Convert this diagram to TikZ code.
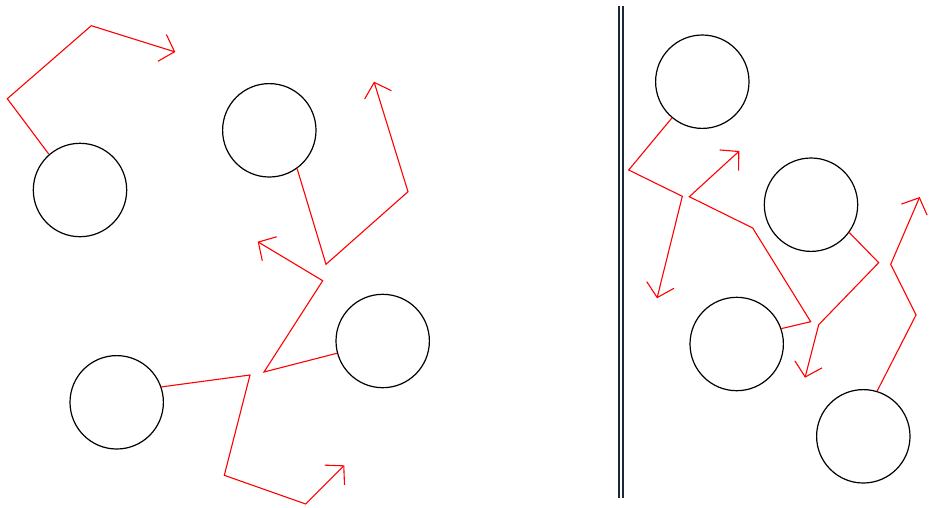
\documentclass[tikz,border=0pt]{standalone}
\usetikzlibrary{arrows.meta}
\begin{document}
\begin{tikzpicture}[x=1pt,y=-1pt,
  ball/.style={circle,draw=black,line width=1.2pt,minimum size=93.4pt,inner sep=0pt},
  walk/.style={draw=red,line width=1.1pt,-{Straight Barb[length=13pt,width=28pt]}},
  wall/.style={draw={rgb,255:red,30;green,38;blue,58},line width=1.2pt}]
\useasboundingbox (0,0) rectangle (944,507);
% left panel
\node[ball] (c1) at (80,190) {};
\node[ball] (c2) at (269.3,130.3) {};
\node[ball] (c3) at (382.7,341) {};
\node[ball] (c4) at (116.7,402.3) {};
% right panel
\node[ball] (c5) at (702.3,81.7) {};
\node[ball] (c6) at (811,204.7) {};
\node[ball] (c7) at (736.7,344) {};
\node[ball] (c8) at (863.3,436.3) {};
% wall
\coordinate (w1t) at (619,6); \coordinate (w1b) at (619,497.5);
\coordinate (w2t) at (623,6); \coordinate (w2b) at (623,497.5);
\draw[wall] (w1t) -- (w1b);
\draw[wall] (w2t) -- (w2b);
% walks
\draw[walk] (c1.131.3) -- (7.3,98.7) -- (91.3,25.7) -- (175.3,52);
\draw[walk] (c2.-54.6) -- (326,264.3) -- (408,191.7) -- (374,81.7);
\draw[walk] (c3.-165.5) -- (264,372) -- (322.7,280.7) -- (257.7,241.7);
\draw[walk] (c4.19.4) -- (250,375) -- (224.3,475.3) -- (305.7,504) -- (344.3,465.3);
\draw[walk] (c5.-130.4) -- (628.7,170) -- (682.3,196.3) -- (657,298.3);
\draw[walk] (c7.19.2) -- (810.7,321.7) -- (752.7,228) -- (689.3,196.7) -- (739.3,151);
\draw[walk] (c6.-36.7) -- (878.7,262.7) -- (818.7,324.7) -- (805,377.7);
\draw[walk] (c8.73.9) -- (916,315) -- (890.7,264.3) -- (919.7,197);
\end{tikzpicture}
\end{document}
